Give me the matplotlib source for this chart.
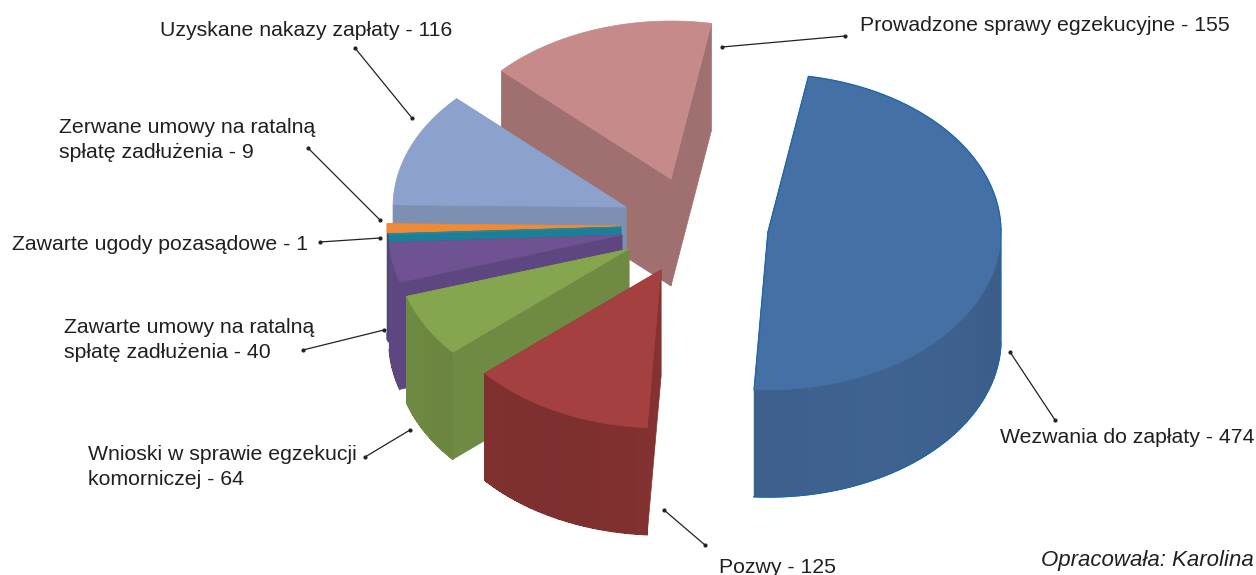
import numpy as np
import matplotlib
matplotlib.use('Agg')
import matplotlib.pyplot as plt
from matplotlib.colors import to_rgb

plt.rcParams['font.family'] = ['Liberation Sans', 'DejaVu Sans']

# Dane z wykresu
wartosci = [474, 125, 64, 40, 1, 9, 116, 155]

# Wyglad wycinkow: kolory i polozenie wierzcholka (piksele)
kolor_gora = ['#4470a5', '#a44140', '#86a54f', '#6e5291', '#1f8ba5', '#ef8b36', '#8ca2cc', '#c68a8a']
kolor_bok = ['#3e618f', '#843231', '#6f8a42', '#5e4680', '#1d7f97', '#d97f30', '#7e90b2', '#a07070']
kolor_zewn = ['#3e618f', '#843231', '#6f8a42', '#5e4680', '#3f4a80', '#3f4a80', '#7e90b2', '#a07070']
srodek_x = [768, 661, 629, 622, 621, 620, 626, 671]
srodek_y = [232, 270, 249, 235, 227, 226, 207, 179]
rx, ry, glebokosc = 233, 158, 107
kat_startowy = 10

fig = plt.figure(figsize=(12.56, 5.75), dpi=100)
ax = fig.add_axes([0, 0, 1, 1])
ax.set_xlim(0, 1256)
ax.set_ylim(575, 0)
ax.axis('off')


def punkt(cx, cy, t):
    t = np.radians(t)
    return cx + rx * np.sin(t), cy - ry * np.cos(t)


def rysuj_wycinek(cx, cy, t0, t1, gora, bok, zewn, obrys=None):
    ts = np.linspace(t0, t1, 80)
    xs, ys = punkt(cx, cy, ts)
    # sciany boczne od strony srodka
    for xk, yk in [(xs[0], ys[0]), (xs[-1], ys[-1])]:
        ax.fill([cx, xk, xk, cx], [cy, yk, yk + glebokosc, cy + glebokosc],
                color=bok, lw=0.5)
    # sciana zewnetrzna, paskami zeby dac lekki gradient
    widoczne = np.cos(np.radians(ts)) <= 0
    for i in range(len(ts) - 1):
        sr = (ts[i] + ts[i + 1]) / 2
        if np.cos(np.radians(sr)) > 0:
            continue
        f = 0.98 + 0.03 * np.sin(np.radians(sr * 3))
        kolor = tuple(min(c * f, 1) for c in to_rgb(zewn))
        ax.fill([xs[i], xs[i + 1], xs[i + 1], xs[i]],
                [ys[i], ys[i + 1], ys[i + 1] + glebokosc, ys[i] + glebokosc],
                color=kolor, lw=0, antialiased=False)
    # wygladzenie dolnej krawedzi po paskach
    ax.plot(xs[widoczne], ys[widoczne] + glebokosc, color=zewn, lw=1)
    ax.fill(np.r_[cx, xs], np.r_[cy, ys], color=gora, lw=0.5)
    if obrys:
        # obrys tylko po zewnetrznej stronie bryly
        tyl = ~widoczne
        ax.plot(np.r_[xs[-1], cx, xs[tyl]], np.r_[ys[-1], cy, ys[tyl]], color=obrys, lw=1)
        xd, yd = xs[widoczne], ys[widoczne] + glebokosc
        ax.plot(np.r_[xs[tyl][-1], xd], np.r_[ys[tyl][-1], yd], color=obrys, lw=1)


katy = kat_startowy + np.r_[0, np.cumsum(wartosci)] / sum(wartosci) * 360

# od tylu do przodu, niebieski na koncu
for i in [7, 6, 5, 4, 3, 2, 1, 0]:
    rysuj_wycinek(srodek_x[i], srodek_y[i], katy[i], katy[i + 1],
                  kolor_gora[i], kolor_bok[i], kolor_zewn[i],
                  '#1f69a8' if i == 0 else None)

# Linie odniesienia
linie = [
    ((845, 36), (722, 47)),
    ((355, 48), (412, 118)),
    ((308, 148), (380, 220)),
    ((320, 242), (380, 238)),
    ((303, 350), (384, 330)),
    ((365, 457), (410, 430)),
    ((705, 545), (664, 510)),
    ((1055, 420), (1010, 352)),
]
for (x0, y0), (x1, y1) in linie:
    ax.plot([x0, x1], [y0, y1], color='#222222', lw=0.9)
    ax.plot([x0, x1], [y0, y1], 'o', color='#222222', ms=2)

# Podpisy
rozmiar = 15.3
teksty = [
    (860, 31, 'Prowadzone sprawy egzekucyjne - 155'),
    (160, 36, 'Uzyskane nakazy zapłaty - 116'),
    (59, 133, 'Zerwane umowy na ratalną'),
    (59, 158, 'spłatę zadłużenia - 9'),
    (12, 250, 'Zawarte ugody pozasądowe - 1'),
    (64, 333, 'Zawarte umowy na ratalną'),
    (64, 358, 'spłatę zadłużenia - 40'),
    (88, 460, 'Wnioski w sprawie egzekucji'),
    (88, 485, 'komorniczej - 64'),
    (1000, 443, 'Wezwania do zapłaty - 474'),
    (719, 573, 'Pozwy - 125'),
]
for x, y, s in teksty:
    ax.text(x, y, s, fontsize=rozmiar, color='#231f20', va='baseline', ha='left')
ax.text(1041, 566, 'Opracowała: Karolina', fontsize=16, style='italic',
        color='#231f20', va='baseline', ha='left')

fig.savefig('out.png', dpi=100)
